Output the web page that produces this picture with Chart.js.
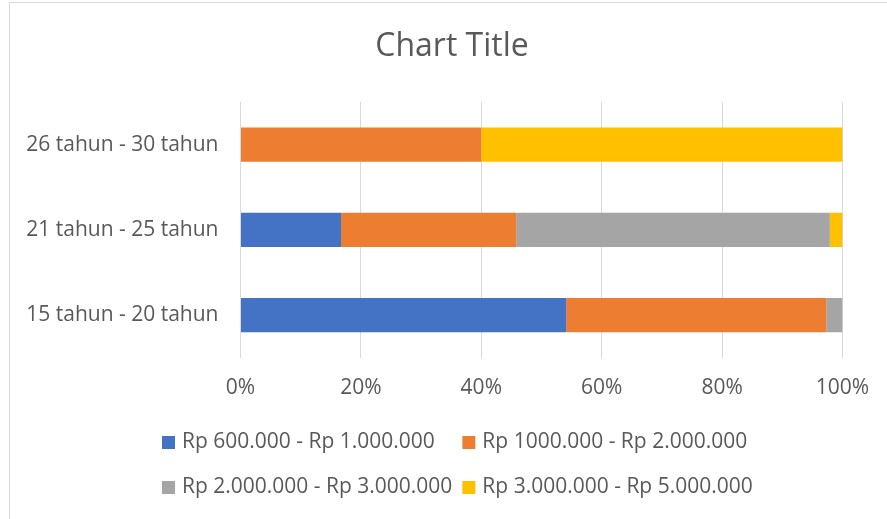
<!DOCTYPE html>
<html>
<head>
<meta charset="utf-8">
<title>Chart Title</title>
<script src="https://cdn.jsdelivr.net/npm/chart.js@4.4.1/dist/chart.umd.min.js"></script>
<style>
  html, body { margin: 0; padding: 0; background: #fff; overflow: hidden; }
  #frame {
    position: absolute; left: 9px; top: 2px;
    width: 1000px; height: 1000px;
    border: 1px solid #d9d9d9; box-sizing: border-box;
  }
  #chart { position: absolute; left: 0; top: 0; }
</style>
</head>
<body>
<div id="frame"></div>
<canvas id="chart" width="903" height="519" style="width:903px;height:519px"></canvas>
<script>
// Categories in sheet order (first one ends up at the bottom, like Excel).
const categories = ["15 tahun - 20 tahun", "21 tahun - 25 tahun", "26 tahun - 30 tahun"];
const seriesNames = [
  "Rp 600.000 - Rp 1.000.000",
  "Rp 1000.000 - Rp 2.000.000",
  "Rp 2.000.000 - Rp 3.000.000",
  "Rp 3.000.000 - Rp 5.000.000",
];
// Share of each income band per age group, in percent.
const band1 = [54.1, 16.7, 0];
const band2 = [43.2, 29.1, 40];
const band3 = [2.7, 52.1, 0];
const band4 = [0, 2.1, 60];
const xTicks = [0, 20, 40, 60, 80, 100];
const chartTitle = "Chart Title";

const COLORS = ["#4472C4", "#ED7D31", "#A5A5A5", "#FFC000"];
const TEXT = "#595959";
const GRID = "#D9D9D9";
const FONT = "'Open Sans', 'Noto Sans', sans-serif";

// Title centred on the whole chart object (the built-in one centres on the plot side).
const frameTitle = {
  id: "frameTitle",
  afterDraw(chart) {
    const { ctx } = chart;
    ctx.save();
    ctx.font = `32px ${FONT}`;
    ctx.fillStyle = TEXT;
    ctx.textAlign = "center";
    ctx.textBaseline = "middle";
    ctx.fillText(chartTitle, 452, 47);
    ctx.restore();
  },
};

// Excel-like legend: two columns, items aligned on a grid.
const gridLegend = {
  id: "gridLegend",
  afterDraw(chart) {
    const { ctx } = chart;
    const items = chart.data.datasets.map((ds) => ({ text: ds.label, color: ds.backgroundColor }));
    const box = 13;
    const gap = 7;
    const colGap = 10;
    const rows = [442, 487];
    ctx.save();
    ctx.font = `21px ${FONT}`;
    ctx.textBaseline = "middle";
    ctx.textAlign = "left";
    const col1Width = Math.max(ctx.measureText(items[0].text).width, ctx.measureText(items[2].text).width);
    const cols = [162, 162 + box + gap + col1Width + colGap];
    items.forEach((item, i) => {
      const x = cols[i % 2];
      const y = rows[Math.floor(i / 2)];
      ctx.fillStyle = item.color;
      ctx.fillRect(x, Math.round(y - box / 2), box, box);
      ctx.fillStyle = TEXT;
      ctx.fillText(item.text, x + box + gap, y);
    });
    ctx.restore();
  },
};

const bands = [band1, band2, band3, band4];

new Chart(document.getElementById("chart").getContext("2d"), {
  type: "bar",
  data: {
    labels: categories,
    datasets: bands.map((values, i) => ({
      label: seriesNames[i],
      data: values,
      backgroundColor: COLORS[i],
      borderWidth: 0,
      barPercentage: 0.4,
      categoryPercentage: 1,
    })),
  },
  options: {
    indexAxis: "y",
    responsive: false,
    animation: false,
    layout: { padding: { left: 0, right: 60.5, top: 102, bottom: 100 } },
    plugins: {
      legend: { display: false },
      tooltip: { enabled: false },
      title: { display: false },
    },
    scales: {
      x: {
        stacked: true,
        min: 0,
        max: 100,
        afterBuildTicks: (scale) => {
          scale.ticks = xTicks.map((value) => ({ value }));
        },
        ticks: {
          color: TEXT,
          font: { family: FONT, size: 21 },
          padding: 18,
          callback: (value) => `${value}%`,
        },
        grid: { color: GRID, drawTicks: false },
        border: { display: false },
      },
      y: {
        stacked: true,
        reverse: true,
        afterFit: (scale) => {
          scale.width = 240.5;
        },
        ticks: {
          color: TEXT,
          font: { family: FONT, size: 21 },
          padding: 22,
        },
        grid: { display: false, drawTicks: false },
        border: { display: false },
      },
    },
  },
  plugins: [frameTitle, gridLegend],
});
</script>
</body>
</html>
